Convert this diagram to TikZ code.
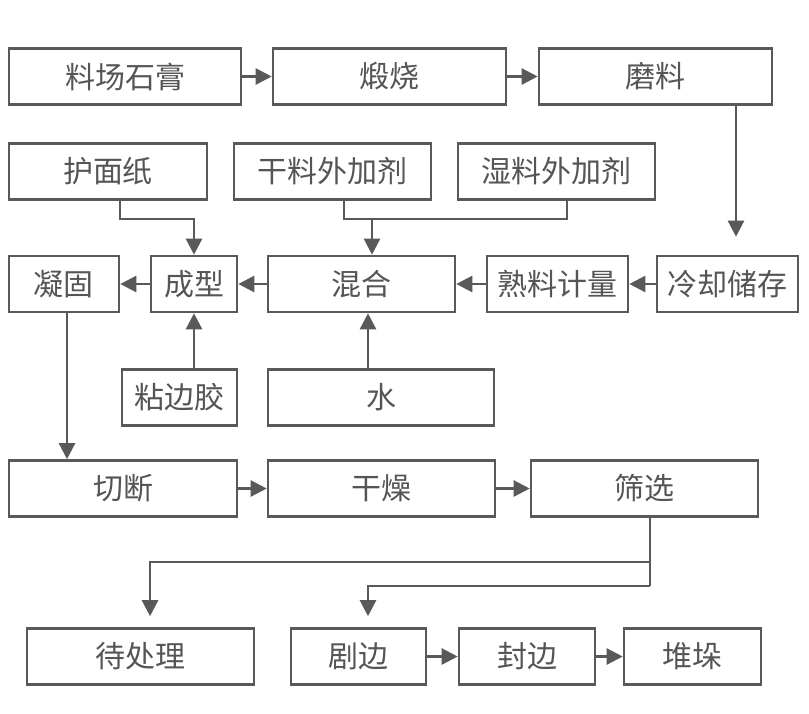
\documentclass[tikz,border=0pt]{standalone}
\usepackage{fontspec}
\newfontfamily\cjk{Noto Sans CJK SC}
\usetikzlibrary{arrows.meta,positioning,calc}
\definecolor{linegray}{HTML}{595959}
\definecolor{textgray}{HTML}{555555}

\begin{document}
\begin{tikzpicture}[
    x=1pt, y=-1pt,
    box/.style={rectangle, draw=linegray, line width=2.6pt, minimum height=56pt,
        inner sep=0pt, font=\cjk\fontsize{30}{32}\selectfont, text=textgray},
    line/.style={draw=linegray, line width=2.4pt},
    arrow/.style={line, -{Triangle[length=16pt,width=16pt]}}
]
\useasboundingbox (0,0) rectangle (809,713);

% Row 1: raw material
\node[box, minimum width=232pt] (shigao) at (125, 76.5) {料场石膏};
\node[box, minimum width=233pt] (duanshao) at (389.5, 76.5) {煅烧};
\node[box, minimum width=233pt] (moliao) at (655.5, 76.5) {磨料};

% Row 2: additives and paper
\node[box, minimum width=198pt] (humianzhi) at (108, 171.5) {护面纸};
\node[box, minimum width=197pt] (ganliao) at (332.5, 171.5) {干料外加剂};
\node[box, minimum width=197pt] (shiliao) at (556.5, 171.5) {湿料外加剂};

% Row 3: mixing line
\node[box, minimum width=110pt] (ninggu) at (64, 284) {凝固};
\node[box, minimum width=86pt] (chengxing) at (194, 284) {成型};
\node[box, minimum width=187pt] (hunhe) at (361.5, 284) {混合};
\node[box, minimum width=141pt] (jiliang) at (557.5, 284) {熟料计量};
\node[box, minimum width=141pt] (lengque) at (727.5, 284) {冷却储存};

% Row 4: glue and water
\node[box, minimum width=115pt] (nianbian) at (179.5, 397.5) {粘边胶};
\node[box, minimum width=226pt] (shui) at (381, 397.5) {水};

% Row 5: cutting and drying
\node[box, minimum width=228pt] (qieduan) at (123, 488.5) {切断};
\node[box, minimum width=227pt] (ganzao) at (381.5, 488.5) {干燥};
\node[box, minimum width=227pt] (shaixuan) at (644.5, 488.5) {筛选};

% Row 6: finishing
\node[box, minimum width=227pt] (daichuli) at (140.5, 656.5) {待处理};
\node[box, minimum width=135pt] (jubian) at (358.5, 656.5) {剧边};
\node[box, minimum width=136pt] (fengbian) at (527, 656.5) {封边};
\node[box, minimum width=137pt] (duiduo) at (692.5, 656.5) {堆垛};

% helper points
\coordinate (lq) at ([xshift=8.5pt]lengque.north);
\coordinate (j1) at ([yshift=36pt]chengxing.north);
\coordinate (gl) at ([xshift=11.5pt]ganliao.south);
\coordinate (sl) at ([xshift=10.5pt]shiliao.south);
\coordinate (hh) at ([xshift=10.5pt]hunhe.north);
\coordinate (hs) at ([xshift=6.5pt]hunhe.south);
\coordinate (sx) at ([xshift=5.5pt]shaixuan.south);
\coordinate (dc) at ([xshift=9.5pt]daichuli.north);
\coordinate (jb) at ([xshift=9.5pt]jubian.north);

% Row 1 flow
\draw[arrow] (shigao) -- (duanshao);
\draw[arrow] (duanshao) -- (moliao);
\draw[arrow, shorten >=18pt] (moliao.south -| lq) -- (lq);

% Paper and additives
\draw[arrow] ([xshift=12pt]humianzhi.south) |- (j1) -- (chengxing.north);
\draw[line] (gl) |- (j1 -| sl) -- (sl);
\draw[arrow] (j1 -| hh) -- (hh);

% Row 3 flow
\draw[arrow] (lengque) -- (jiliang);
\draw[arrow] (jiliang) -- (hunhe);
\draw[arrow] (hunhe) -- (chengxing);
\draw[arrow] (chengxing) -- (ninggu);
\draw[arrow] (chengxing.south |- nianbian.north) -- (chengxing.south);
\draw[arrow] (hs |- shui.north) -- (hs);
\draw[arrow] ([xshift=3pt]ninggu.south) -- ([xshift=3pt]ninggu.south |- qieduan.north);

% Row 5 flow
\draw[arrow] (qieduan) -- (ganzao);
\draw[arrow] (ganzao) -- (shaixuan);
\draw[line] (sx) -- ([yshift=-68pt]sx);
\draw[arrow, shorten >=11pt] ([yshift=-44pt]sx) -| (dc);
\draw[arrow, shorten >=11pt] ([yshift=-68pt]sx) -| (jb);

% Row 6 flow
\draw[arrow] (jubian) -- (fengbian);
\draw[arrow] (fengbian) -- (duiduo);

\end{tikzpicture}
\end{document}
